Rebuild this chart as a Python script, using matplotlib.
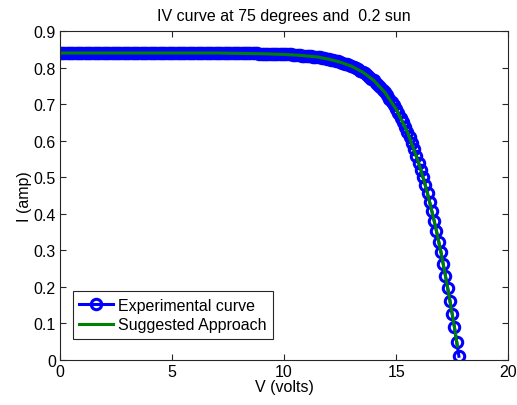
import numpy as np
import matplotlib
matplotlib.use('Agg')
import matplotlib.pyplot as plt

plt.rcParams['font.family'] = ['Liberation Sans', 'DejaVu Sans']

# experimental IV points (volts, amps), 0.1 V steps
v_exp = [0.0, 0.1, 0.2, 0.3, 0.4, 0.5, 0.6, 0.7, 0.8, 0.9,
         1.0, 1.1, 1.2, 1.3, 1.4, 1.5, 1.6, 1.7, 1.8, 1.9,
         2.0, 2.1, 2.2, 2.3, 2.4, 2.5, 2.6, 2.7, 2.8, 2.9,
         3.0, 3.1, 3.2, 3.3, 3.4, 3.5, 3.6, 3.7, 3.8, 3.9,
         4.0, 4.1, 4.2, 4.3, 4.4, 4.5, 4.6, 4.7, 4.8, 4.9,
         5.0, 5.1, 5.2, 5.3, 5.4, 5.5, 5.6, 5.7, 5.8, 5.9,
         6.0, 6.1, 6.2, 6.3, 6.4, 6.5, 6.6, 6.7, 6.8, 6.9,
         7.0, 7.1, 7.2, 7.3, 7.4, 7.5, 7.6, 7.7, 7.8, 7.9,
         8.0, 8.1, 8.2, 8.3, 8.4, 8.5, 8.6, 8.7, 8.8, 8.9,
         9.0, 9.1, 9.2, 9.3, 9.4, 9.5, 9.6, 9.7, 9.8, 9.9,
         10.0, 10.1, 10.2, 10.3, 10.4, 10.5, 10.6, 10.7, 10.8, 10.9,
         11.0, 11.1, 11.2, 11.3, 11.4, 11.5, 11.6, 11.7, 11.8, 11.9,
         12.0, 12.1, 12.2, 12.3, 12.4, 12.5, 12.6, 12.7, 12.8, 12.9,
         13.0, 13.1, 13.2, 13.3, 13.4, 13.5, 13.6, 13.7, 13.8, 13.9,
         14.0, 14.1, 14.2, 14.3, 14.4, 14.5, 14.6, 14.7, 14.8, 14.9,
         15.0, 15.1, 15.2, 15.3, 15.4, 15.5, 15.6, 15.7, 15.8, 15.9,
         16.0, 16.1, 16.2, 16.3, 16.4, 16.5, 16.6, 16.7, 16.8, 16.9,
         17.0, 17.1, 17.2, 17.3, 17.4, 17.5, 17.6, 17.7, 17.8]
i_exp = ([0.840] * 73 + [0.839] * 16 + [0.838] * 7 + [0.837] * 4 + [0.836] * 4 +
         [0.835, 0.835, 0.834, 0.834, 0.833, 0.832, 0.832, 0.831, 0.831, 0.830,
          0.829, 0.828, 0.828, 0.827, 0.826, 0.824, 0.823, 0.821, 0.820, 0.818,
          0.817, 0.815, 0.813, 0.811, 0.809, 0.806, 0.804, 0.801, 0.798, 0.795,
          0.792, 0.788, 0.784, 0.780, 0.775, 0.770, 0.765, 0.759, 0.753, 0.746,
          0.740, 0.732, 0.724, 0.715, 0.706, 0.697, 0.686, 0.675, 0.663, 0.651,
          0.638, 0.624, 0.609, 0.593, 0.576, 0.559, 0.540, 0.521, 0.500, 0.478,
          0.456, 0.431, 0.407, 0.380, 0.353, 0.324, 0.295, 0.263, 0.230, 0.197,
          0.162, 0.126, 0.090, 0.050, 0.010])

# suggested approach (model) curve
v_fit = [0.0, 2.0, 4.0, 6.0, 7.0, 8.0, 9.0, 10.0, 10.5, 11.0, 11.5, 12.0, 12.5, 13.0, 13.5,
         14.0, 14.5, 15.0, 15.5, 16.0, 16.25, 16.5, 16.75, 17.0, 17.2, 17.4, 17.6, 17.73]
i_fit = [0.840, 0.840, 0.840, 0.840, 0.840, 0.839, 0.838, 0.836, 0.8345, 0.832, 0.829, 0.823,
         0.815, 0.804, 0.788, 0.765, 0.732, 0.686, 0.624, 0.540, 0.489, 0.431, 0.366, 0.2945,
         0.230, 0.162, 0.090, 0.038]

fig = plt.figure(figsize=(5.17, 4.06), dpi=100)
ax = fig.add_axes([0.116, 0.111, 0.867, 0.810])

ax.plot(v_exp, i_exp, '-o', color='blue', lw=2.2, ms=7.5, mew=2.2, mfc='none',
        label='Experimental curve')
ax.plot(v_fit, i_fit, '-', color=(0, 0.5, 0), lw=2.2, label='Suggested Approach')

ax.set_xlim(0, 20)
ax.set_ylim(0, 0.9)
ax.set_xticks([0, 5, 10, 15, 20])
ax.set_yticks(np.arange(0, 0.91, 0.1))
ax.set_yticklabels(['0', '0.1', '0.2', '0.3', '0.4', '0.5', '0.6', '0.7', '0.8', '0.9'])
ax.tick_params(direction='in', top=True, right=True, length=4, width=0.8,
               labelsize=11.5, colors='#262626', pad=3)
ax.tick_params(labelcolor='black')
for s in ax.spines.values():
    s.set_color('#262626')
    s.set_linewidth(0.8)

ax.set_xlabel('V (volts)', fontsize=11.5, labelpad=0)
ax.set_ylabel('I (amp)', fontsize=11.5, labelpad=1)
ax.set_title('IV curve at 75 degrees and  0.2 sun', fontsize=11.5, pad=8)

leg = ax.legend(loc='lower left', bbox_to_anchor=(0.029, 0.064), fontsize=11.5,
                fancybox=False, framealpha=1, edgecolor='#262626', handlelength=2.1,
                borderpad=0.4, labelspacing=0.3, handletextpad=0.3, borderaxespad=0)
leg.get_frame().set_linewidth(0.8)

fig.savefig('out.png', dpi=100)
